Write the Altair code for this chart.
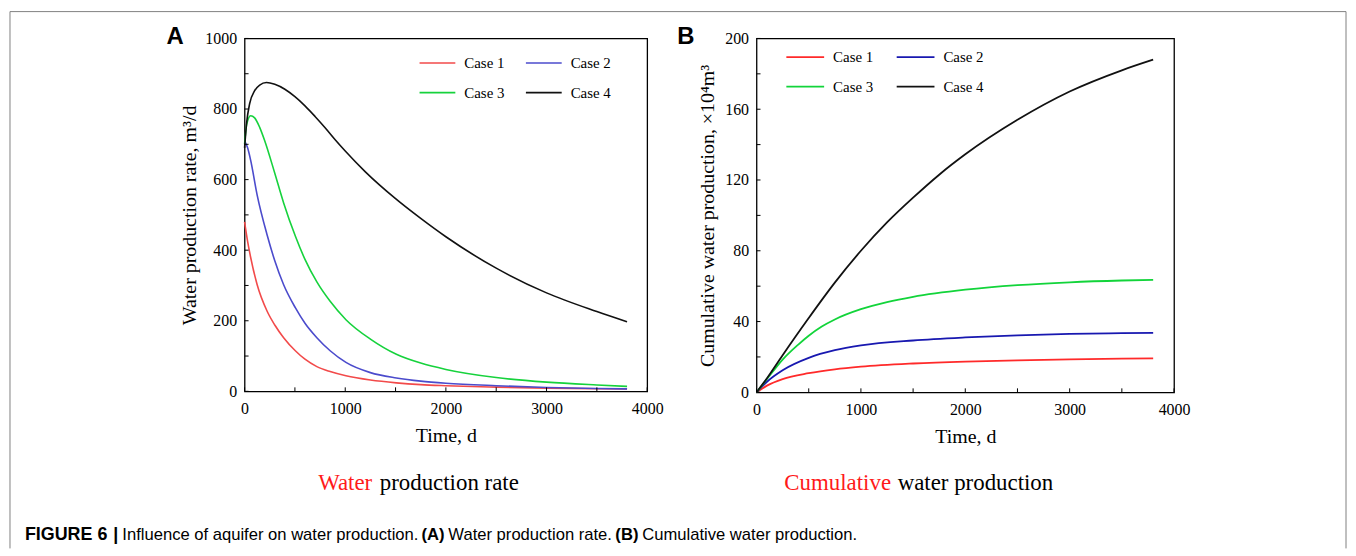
import altair as alt
import pandas as pd

CASES = ["Case 1", "Case 2", "Case 3", "Case 4"]

# ---- Panel A: water production rate (m3/d) ----
RATE_T1 = [0, 30, 60, 125, 224, 300, 388, 504, 600, 718, 850, 1007, 1250, 1508, 1750, 2000, 2500, 3000, 3500, 3800]
RATE_V1 = [480, 425, 380, 302, 227, 188, 152, 115, 91, 70, 56, 44, 32, 24, 19, 16, 12, 9, 7.5, 7]
RATE_T2 = [0, 30, 60, 125, 224, 300, 388, 504, 600, 718, 850, 1007, 1250, 1508, 1750, 2000, 2500, 3000, 3500, 3800]
RATE_V2 = [710, 690, 655, 556, 443, 370, 302, 237, 193, 152, 115, 82, 53, 38, 29, 23, 16, 11, 8, 7]
RATE_T3 = [0, 20, 60, 100, 150, 200, 300, 388, 504, 600, 718, 850, 1007, 1250, 1508, 1750, 2000, 2500, 3000, 3500, 3800]
RATE_V3 = [700, 755, 781, 775, 748, 710, 618, 534, 440, 374, 310, 255, 203, 148, 105, 80, 62, 39, 26, 18, 14]
RATE_T4 = [0, 20, 50, 100, 150, 217, 300, 400, 500, 600, 700, 800, 900, 1000, 1200, 1500, 1750, 2000, 2500, 3000, 3500, 3800]
RATE_V4 = [690, 760, 815, 852, 868, 875, 870, 856, 835, 809, 779, 747, 713, 681, 622, 546, 490, 438, 349, 279, 226, 197]

# ---- Panel B: cumulative water production (x10^4 m3) ----
CUM_T1 = [0, 100, 250, 500, 750, 1000, 1500, 2000, 2500, 3000, 3500, 3800]
CUM_V1 = [0, 3.8, 7.5, 10.8, 13, 14.5, 16.3, 17.4, 18.1, 18.6, 19, 19.2]
CUM_T2 = [0, 100, 250, 500, 750, 1000, 1500, 2000, 2500, 3000, 3500, 3800]
CUM_V2 = [0, 6, 12.5, 19.5, 23.8, 26.5, 29.3, 31, 32.2, 33, 33.4, 33.6]
CUM_T3 = [0, 100, 250, 400, 500, 625, 750, 1000, 1250, 1500, 2000, 2500, 3000, 3500, 3800]
CUM_V3 = [0, 7.5, 18.5, 27, 32, 37.2, 41.2, 47, 51, 54, 58, 60.6, 62.2, 63.2, 63.6]
CUM_T4 = [0, 100, 250, 500, 750, 1000, 1250, 1500, 1750, 2000, 2500, 3000, 3500, 3800]
CUM_V4 = [0, 8, 21, 42, 62, 80, 96, 110, 123, 134.5, 154, 170, 182, 188]

X_LABELS = [0, 1000, 2000, 3000, 4000]
X_TICKS = [0, 500, 1000, 1500, 2000, 2500, 3000, 3500, 4000]
YA_LABELS = [0, 200, 400, 600, 800, 1000]
YA_TICKS = [0, 100, 200, 300, 400, 500, 600, 700, 800, 900, 1000]
YB_LABELS = [0, 40, 80, 120, 160, 200]
YB_TICKS = [0, 20, 40, 60, 80, 100, 120, 140, 160, 180, 200]


def long_df(pairs):
    rows = []
    for case, ts, vs in pairs:
        for i, (t, v) in enumerate(zip(ts, vs)):
            rows.append({"case": case, "t": t, "v": v, "i": i})
    return pd.DataFrame(rows)


rate_df = long_df([(CASES[0], RATE_T1, RATE_V1), (CASES[1], RATE_T2, RATE_V2),
                   (CASES[2], RATE_T3, RATE_V3), (CASES[3], RATE_T4, RATE_V4)])
cum_df = long_df([(CASES[0], CUM_T1, CUM_V1), (CASES[1], CUM_T2, CUM_V2),
                  (CASES[2], CUM_T3, CUM_V3), (CASES[3], CUM_T4, CUM_V4)])

ONE = pd.DataFrame({"k": [0]})
SERIF = "Liberation Serif"
SANS = "Liberation Sans"

WA, HA = 405, 355
WB, HB = 420, 356


def axis_x():
    return alt.Axis(values=X_LABELS, format="d", ticks=False, tickSize=0, domain=False, grid=False,
                    labelFlush=False, labelFont=SERIF, labelFontSize=16, labelColor="black",
                    labelPadding=9, title="Time, d", titleFont=SERIF, titleFontSize=20,
                    titleFontWeight="normal", titleColor="black", titlePadding=9)


def axis_y(vals, title, pad):
    return alt.Axis(values=vals, format="d", ticks=False, tickSize=0, domain=False, grid=False,
                    labelFlush=False, labelFont=SERIF, labelFontSize=16, labelColor="black",
                    labelPadding=8, title=title, titleFont=SERIF, titleFontSize=20,
                    titleFontWeight="normal", titleColor="black", titlePadding=pad)


def legend(lx, ly, sym, colpad):
    return alt.Legend(orient="none", legendX=lx, legendY=ly, columns=2, direction="horizontal",
                      title=None, symbolType="stroke", symbolSize=sym, symbolStrokeWidth=1.6,
                      clipHeight=15, labelFont=SERIF, labelFontSize=15, labelColor="black",
                      labelOffset=8, columnPadding=colpad, rowPadding=14, padding=0)


def text(s, x, y, size, color="black", font=SERIF, weight="normal", align="left", baseline="alphabetic"):
    return alt.Chart(ONE).mark_text(text=s, font=font, fontSize=size, fontWeight=weight, color=color,
                                    align=align, baseline=baseline).encode(x=alt.value(x), y=alt.value(y))


def ticks(xscale, yscale, yticks, h, xaxis, yaxis):
    xt = alt.Chart(pd.DataFrame({"t": X_TICKS})).mark_rule(color="black", strokeWidth=1).encode(
        x=alt.X("t:Q", scale=xscale, axis=xaxis), y=alt.value(h), y2=alt.value(h - 4))
    yt = alt.Chart(pd.DataFrame({"v": yticks})).mark_rule(color="black", strokeWidth=1).encode(
        y=alt.Y("v:Q", scale=yscale, axis=yaxis), x=alt.value(0), x2=alt.value(4))
    return xt, yt


xs = alt.Scale(domain=[0, 4000], nice=False, zero=False)
ysa = alt.Scale(domain=[0, 1000], nice=False)
ysb = alt.Scale(domain=[0, 200], nice=False)

colors_a = ["#f24a4a", "#4b4bcc", "#16d23c", "#111111"]
colors_b = ["#ff2a2a", "#1818b0", "#12d43a", "#111111"]

ax_a_x = axis_x()
ax_a_y = axis_y(YA_LABELS, "Water production rate, m³/d", 5)
ax_b_x = axis_x()
ax_b_y = axis_y(YB_LABELS, "Cumulative water production, ×10⁴m³", 7)

lines_a = alt.Chart(rate_df).mark_line(strokeWidth=1.6, interpolate="monotone").encode(
    x=alt.X("t:Q", scale=xs, axis=ax_a_x),
    y=alt.Y("v:Q", scale=ysa, axis=ax_a_y),
    color=alt.Color("case:N", scale=alt.Scale(domain=CASES, range=colors_a),
                    legend=legend(175, 17, 1296, 20)),
    order="i:Q",
)
xta, yta = ticks(xs, ysa, YA_TICKS, HA, ax_a_x, ax_a_y)

# border (left, top, right) relative to panel A origin
BTOP = -27
BBOT = 513
border_l = alt.Chart(ONE).mark_rule(color="#808080", strokeWidth=1).encode(
    x=alt.value(-236), y=alt.value(BTOP), y2=alt.value(BBOT))
border_t = alt.Chart(ONE).mark_rule(color="#808080", strokeWidth=1).encode(
    x=alt.value(-236), x2=alt.value(1108), y=alt.value(BTOP))
border_r = alt.Chart(ONE).mark_rule(color="#808080", strokeWidth=1).encode(
    x=alt.value(1108), y=alt.value(BTOP), y2=alt.value(BBOT))

CAP = 16.7
CY = 505
panel_a = alt.layer(
    lines_a, xta, yta,
    text("A", -70, -1, 24, font=SANS, weight="bold", align="center", baseline="middle"),
    text("Water", 74, 454, 23, color="#ff1a1a"),
    text("production rate", 136, 454, 23),
    text("FIGURE 6", -221, CY, 18, font=SANS, weight="bold"),
    text("|", -132, CY, 18, font=SANS, weight="bold"),
    text("Influence of aquifer on water production.", -123, CY, CAP, font=SANS),
    text("(A)", 178, CY, CAP, font=SANS, weight="bold"),
    text("Water production rate.", 205, CY, CAP, font=SANS),
    text("(B)", 373, CY, CAP, font=SANS, weight="bold"),
    text("Cumulative water production.", 400, CY, CAP, font=SANS),
    border_l, border_t, border_r,
).properties(width=WA, height=HA)

lines_b = alt.Chart(cum_df).mark_line(strokeWidth=1.8, interpolate="monotone").encode(
    x=alt.X("t:Q", scale=xs, axis=ax_b_x),
    y=alt.Y("v:Q", scale=ysb, axis=ax_b_y),
    color=alt.Color("case:N", scale=alt.Scale(domain=CASES, range=colors_b),
                    legend=legend(29, 11, 1444, 22)),
    order="i:Q",
)
xtb, ytb = ticks(xs, ysb, YB_TICKS, HB, ax_b_x, ax_b_y)

panel_b = alt.layer(
    lines_b, xtb, ytb,
    text("B", -71, -1, 24, font=SANS, weight="bold", align="center", baseline="middle"),
    text("Cumulative", 28, 454, 23, color="#ff1a1a"),
    text("water production", 142, 454, 23),
).properties(width=WB, height=HB)

chart = alt.hconcat(panel_a, panel_b, spacing=110, bounds="flush", padding=0).resolve_scale(
    color="independent").resolve_legend(color="independent").properties(
    background="white").configure_view(stroke="black", strokeWidth=1.3)

chart.save("out.html", embed_options={"renderer": "svg", "actions": False})
